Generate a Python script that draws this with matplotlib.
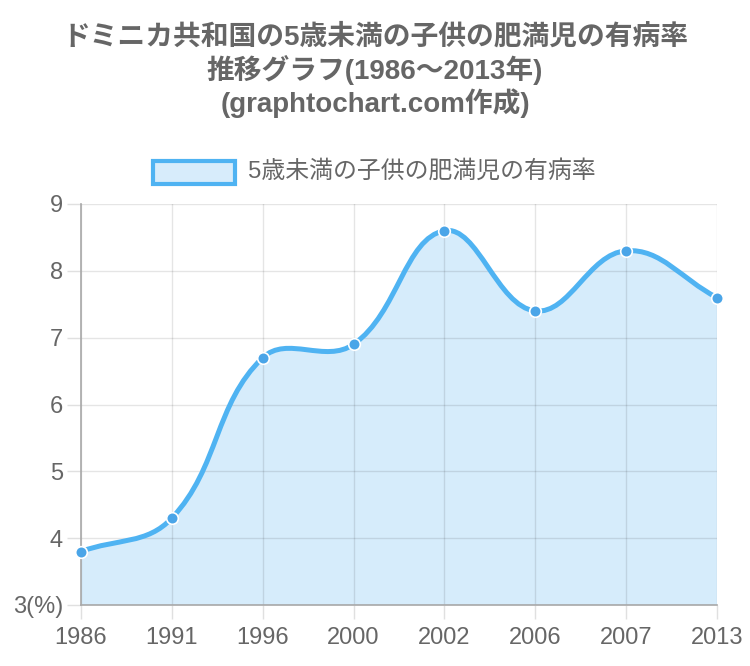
import matplotlib
matplotlib.use("Agg")
import matplotlib.pyplot as plt
from matplotlib.path import Path
from matplotlib.patches import PathPatch, Rectangle
import numpy as np

years = ["1986", "1991", "1996", "2000", "2002", "2006", "2007", "2013"]
values = [3.8, 4.3, 6.7, 6.9, 8.6, 7.4, 8.3, 7.6]
y_ticks = [3, 4, 5, 6, 7, 8, 9]
y_tick_labels = ["3(%)", "4", "5", "6", "7", "8", "9"]
title_lines = ["ドミニカ共和国の5歳未満の子供の肥満児の有病率", "推移グラフ(1986〜2013年)", "(graphtochart.com作成)"]
legend_label = "5歳未満の子供の肥満児の有病率"

GRAY = "#666666"
LINE = "#4fb3f2"
FILL = (54/255, 162/255, 235/255, 0.2)
POINT = "#4aa5e8"
GRID = (0, 0, 0, 0.1)
CJK = ["Liberation Sans", "Noto Sans CJK JP", "DejaVu Sans"]
NUM = ["Liberation Sans", "DejaVu Sans"]

W, H = 750, 666
fig = plt.figure(figsize=(W/100, H/100), dpi=100)
L, R, T, B = 81, 717, 204, 605
ax = fig.add_axes([L/W, 1 - B/H, (R-L)/W, (B-T)/H])
x = np.arange(len(years))
ax.set_xlim(0, len(years)-1)
ax.set_ylim(3, 9)

# Chart.js-style spline (tension 0.4), computed in pixel space
tr = ax.transData
pts = tr.transform(np.column_stack([x, values]))
t = 0.4
n = len(pts)
cp_prev = np.zeros_like(pts)
cp_next = np.zeros_like(pts)
for i in range(n):
    prev = pts[i-1] if i > 0 else pts[i]
    cur = pts[i]
    nxt = pts[i+1] if i < n-1 else pts[i]
    d01 = np.hypot(*(cur - prev))
    d12 = np.hypot(*(nxt - cur))
    tot = d01 + d12
    s01 = d01/tot if tot else 0
    s12 = d12/tot if tot else 0
    cp_prev[i] = cur - t*s01*(nxt - prev)
    cp_next[i] = cur + t*s12*(nxt - prev)
inv = tr.inverted()
cp_prev_d = inv.transform(cp_prev)
cp_next_d = inv.transform(cp_next)
verts = [(x[0], values[0])]
codes = [Path.MOVETO]
for i in range(n-1):
    verts += [tuple(cp_next_d[i]), tuple(cp_prev_d[i+1]), (x[i+1], values[i+1])]
    codes += [Path.CURVE4]*3
line_path = Path(verts, codes)
fill_verts = verts + [(x[-1], 3), (x[0], 3), (x[0], values[0])]
fill_codes = codes + [Path.LINETO, Path.LINETO, Path.CLOSEPOLY]

ax.add_patch(PathPatch(Path(fill_verts, fill_codes), facecolor=FILL, edgecolor="none", zorder=1))
ax.add_patch(PathPatch(line_path, facecolor="none", edgecolor=LINE, lw=3.6, zorder=3,
                       capstyle="round", joinstyle="round", clip_on=False))
ax.scatter(x, values, s=70, color=POINT, edgecolor="white", linewidth=1.2, zorder=4, clip_on=False)

# grid
for yy in y_ticks:
    ax.axhline(yy, color=GRID, lw=1, zorder=1.5)
for xx in x:
    ax.axvline(xx, color=GRID, lw=1, zorder=1.5)
for s in ["top", "right"]:
    ax.spines[s].set_visible(False)
for s in ["left", "bottom"]:
    ax.spines[s].set_color("#a8a8a8")
    ax.spines[s].set_linewidth(1.2)
    ax.spines[s].set_zorder(2)
ax.set_xticks(x)
ax.set_xticklabels(years, fontfamily=NUM, fontsize=17, color=GRAY)
ax.set_yticks(y_ticks)
ax.set_yticklabels(y_tick_labels, fontfamily=NUM, fontsize=17, color=GRAY)
ax.tick_params(axis="both", length=10, color="#e0e0e0", width=1)
ax.tick_params(axis="x", pad=6)
ax.tick_params(axis="y", pad=3)

for i, line in enumerate(title_lines):
    fig.text(0.5, 1 - (37 + 33*i)/H, line, ha="center", va="center", fontsize=20,
             fontweight="bold", color=GRAY, family=CJK)

# legend
fig.patches.append(Rectangle((153/W, 1 - 184/H), 82/W, 23/H, transform=fig.transFigure,
                             facecolor=(215/255, 236/255, 251/255), edgecolor=LINE, lw=3))
fig.text(248/W, 1 - 171/H, legend_label, ha="left", va="center", fontsize=17.2,
         color=GRAY, family=CJK)

fig.savefig("out.png", dpi=100)
